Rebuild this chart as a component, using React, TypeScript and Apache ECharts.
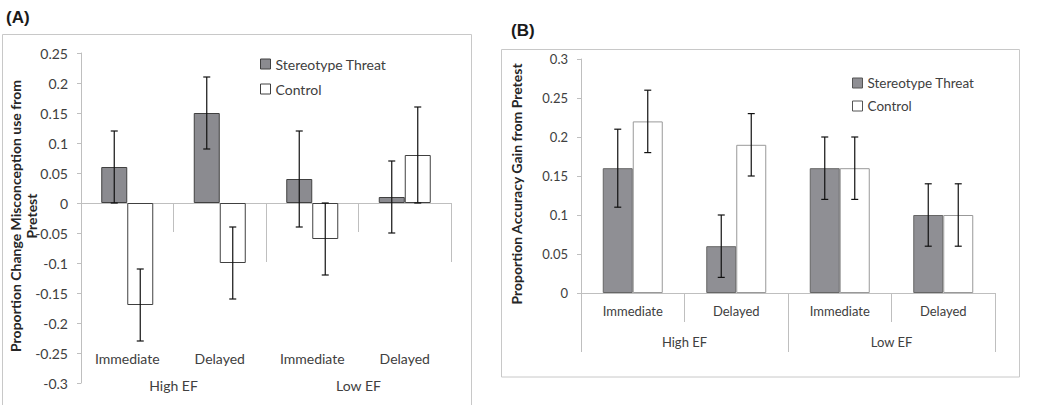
import React, { useEffect, useRef } from "react";
import * as echarts from "echarts";

const innerCats = ["Immediate", "Delayed", "Immediate", "Delayed"];
const groupCats = ["High EF", "Low EF"];
const seriesNames = ["Stereotype Threat", "Control"];

// Panel A: Proportion change misconception use from pretest
const stA = [0.06, 0.15, 0.04, 0.01];
const ctrlA = [-0.17, -0.1, -0.06, 0.08];
const stAErr = [0.06, 0.06, 0.08, 0.06];
const ctrlAErr = [0.06, 0.06, 0.06, 0.08];

// Panel B: Proportion accuracy gain from pretest
const stB = [0.16, 0.06, 0.16, 0.1];
const ctrlB = [0.22, 0.19, 0.16, 0.1];
const stBErr = [0.05, 0.04, 0.04, 0.04];
const ctrlBErr = [0.04, 0.04, 0.04, 0.04];

const yTitleA = "Proportion Change Misconception use from\nPretest";
const yTitleB = "Proportion Accuracy Gain from Pretest";

const FONT = "Lato";
const AXIS_GRAY = "#bfbfbf";
const TEXT = "#404040";

function fmt(v: number) {
  return String(parseFloat(Number(v).toFixed(2)));
}

function errData(vals: number[], errs: number[]) {
  return vals.map((v, i) => [i, v - errs[i], v + errs[i]]);
}

function errSeries(name: string, data: number[][], xi: number, yi: number, offset: number) {
  return {
    type: "custom",
    name,
    xAxisIndex: xi,
    yAxisIndex: yi,
    z: 10,
    encode: { x: 0, y: [1, 2] },
    data,
    renderItem: (params: any, api: any) => {
      const x = api.value(0);
      const lo = api.coord([x, api.value(1)]);
      const hi = api.coord([x, api.value(2)]);
      const cx = lo[0] + offset;
      const cap = 3.5;
      const style = { stroke: "#111", lineWidth: 1.2 };
      return {
        type: "group",
        children: [
          { type: "line", shape: { x1: cx, y1: hi[1], x2: cx, y2: lo[1] }, style },
          { type: "line", shape: { x1: cx - cap, y1: hi[1], x2: cx + cap, y2: hi[1] }, style },
          { type: "line", shape: { x1: cx - cap, y1: lo[1], x2: cx + cap, y2: lo[1] }, style },
        ],
      };
    },
  };
}

function tickAxis(grid: number, data: string[], len: number, onZeroY: number | null) {
  return {
    type: "category",
    gridIndex: grid,
    data,
    position: "bottom",
    axisLine:
      onZeroY === null
        ? { show: true, onZero: false, lineStyle: { color: AXIS_GRAY, width: 1 } }
        : { show: true, onZero: true, onZeroAxisIndex: onZeroY, lineStyle: { color: AXIS_GRAY, width: 1 } },
    axisTick: { show: true, interval: 0, alignWithLabel: false, length: len, lineStyle: { color: AXIS_GRAY } },
    axisLabel: { show: false },
    splitLine: { show: false },
  };
}

function labelAxis(grid: number, data: string[], offset: number, margin: number, size: number) {
  return {
    type: "category",
    gridIndex: grid,
    data,
    position: "bottom",
    offset,
    axisLine: { show: false, onZero: false },
    axisTick: { show: false },
    axisLabel: { show: true, interval: 0, margin, fontSize: size, fontFamily: FONT, color: TEXT },
    splitLine: { show: false },
  };
}

function yAxis(grid: number, min: number, max: number, size: number) {
  return {
    type: "value",
    gridIndex: grid,
    min,
    max,
    interval: 0.05,
    axisLine: { show: true, lineStyle: { color: AXIS_GRAY } },
    axisTick: { show: true, length: 4, lineStyle: { color: AXIS_GRAY } },
    axisLabel: { formatter: fmt, fontSize: size, fontFamily: FONT, color: TEXT, margin: 13 },
    splitLine: { show: false },
  };
}

export default function App() {
  const ref = useRef<HTMLDivElement>(null);
  useEffect(() => {
    if (!ref.current) return;
    const chart = echarts.init(ref.current, null, { renderer: "svg" });
    const stColorA = "#8b8b90";
    const stColorB = "#8f8f94";
    const option: any = {
      animation: false,
      backgroundColor: "#ffffff",
      grid: [
        { left: 81, top: 53, width: 370, height: 330 },
        { left: 581, top: 59, width: 414, height: 234 },
      ],
      xAxis: [
        tickAxis(0, innerCats, 29, 0),
        tickAxis(0, groupCats, 59, 0),
        labelAxis(0, innerCats, -32, 0, 14),
        labelAxis(0, groupCats, -5, 0, 14),
        tickAxis(1, innerCats, 29, null),
        tickAxis(1, groupCats, 59, null),
        labelAxis(1, innerCats, 0, 11, 13),
        labelAxis(1, groupCats, 0, 42, 13),
      ],
      yAxis: [yAxis(0, -0.3, 0.25, 14), yAxis(1, 0, 0.3, 13)],
      legend: [
        {
          left: 260,
          top: 56,
          orient: "vertical",
          padding: 0,
          itemGap: 9,
          itemWidth: 10,
          itemHeight: 10,
          icon: "rect",
          textStyle: { fontFamily: FONT, fontSize: 14, color: TEXT, lineHeight: 16 },
          data: [
            { name: seriesNames[0], itemStyle: { color: stColorA, borderColor: "#404040", borderWidth: 1 } },
            { name: seriesNames[1], itemStyle: { color: "#ffffff", borderColor: "#404040", borderWidth: 1 } },
          ],
        },
        {
          left: 852,
          top: 75,
          orient: "vertical",
          padding: 0,
          itemGap: 7,
          itemWidth: 10,
          itemHeight: 10,
          icon: "rect",
          textStyle: { fontFamily: FONT, fontSize: 13.5, color: TEXT, lineHeight: 16 },
          data: [
            { name: seriesNames[0], itemStyle: { color: stColorB, borderColor: "#555555", borderWidth: 1 } },
            { name: seriesNames[1], itemStyle: { color: "#ffffff", borderColor: "#555555", borderWidth: 1 } },
          ],
        },
      ],
      series: [
        {
          type: "bar",
          name: seriesNames[0],
          xAxisIndex: 0,
          yAxisIndex: 0,
          data: stA,
          barWidth: 26,
          barGap: "0%",
          itemStyle: { color: stColorA, borderColor: "#404040", borderWidth: 1 },
        },
        {
          type: "bar",
          name: seriesNames[1],
          xAxisIndex: 0,
          yAxisIndex: 0,
          data: ctrlA,
          barWidth: 26,
          barGap: "0%",
          itemStyle: { color: "#ffffff", borderColor: "#404040", borderWidth: 1 },
        },
        {
          type: "bar",
          name: seriesNames[0],
          xAxisIndex: 4,
          yAxisIndex: 1,
          data: stB,
          barWidth: 30,
          barGap: "0%",
          itemStyle: { color: stColorB, borderColor: "#666666", borderWidth: 1 },
        },
        {
          type: "bar",
          name: seriesNames[1],
          xAxisIndex: 4,
          yAxisIndex: 1,
          data: ctrlB,
          barWidth: 30,
          barGap: "0%",
          itemStyle: { color: "#ffffff", borderColor: "#999999", borderWidth: 1 },
        },
        errSeries("errStA", errData(stA, stAErr), 0, 0, -13),
        errSeries("errCtrlA", errData(ctrlA, ctrlAErr), 0, 0, 13),
        errSeries("errStB", errData(stB, stBErr), 4, 1, -15),
        errSeries("errCtrlB", errData(ctrlB, ctrlBErr), 4, 1, 15),
      ],
      graphic: [
        {
          type: "rect",
          silent: true,
          shape: { x: 2.5, y: 34.5, width: 469, height: 380 },
          style: { fill: "none", stroke: "#c8c8c8", lineWidth: 1 },
        },
        {
          type: "rect",
          silent: true,
          shape: { x: 501.5, y: 49.5, width: 518, height: 327.5 },
          style: { fill: "none", stroke: "#c8c8c8", lineWidth: 1 },
        },
        {
          type: "text",
          x: 6,
          y: 17,
          style: { text: "(A)", font: "bold 17px 'Liberation Sans'", fill: "#1a1a1a", align: "left", verticalAlign: "middle" },
        },
        {
          type: "text",
          x: 511,
          y: 30,
          style: { text: "(B)", font: "bold 17px 'Liberation Sans'", fill: "#1a1a1a", align: "left", verticalAlign: "middle" },
        },
        {
          type: "text",
          x: 23.5,
          y: 216,
          rotation: Math.PI / 2,
          style: {
            text: yTitleA,
            font: "bold 14px Lato",
            lineHeight: 16,
            fill: "#262626",
            align: "center",
            verticalAlign: "middle",
          },
        },
        {
          type: "text",
          x: 516,
          y: 184,
          rotation: Math.PI / 2,
          style: {
            text: yTitleB,
            font: "bold 14px Lato",
            fill: "#262626",
            align: "center",
            verticalAlign: "middle",
          },
        },
      ],
    };
    chart.setOption(option);
    return () => chart.dispose();
  }, []);
  return (
    <div
      ref={ref}
      style={{ position: "fixed", left: 0, top: 0, width: 1055, height: 405, background: "#fff" }}
    />
  );
}
